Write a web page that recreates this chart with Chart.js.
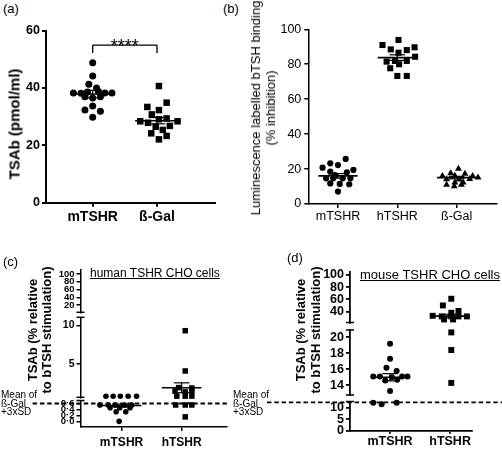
<!DOCTYPE html>
<html>
<head>
<meta charset="utf-8">
<script src="https://cdn.jsdelivr.net/npm/chart.js@4.4.0/dist/chart.umd.min.js"></script>
<style>
  body { margin: 0; background: #fff; }
  #fig { position: relative; width: 502px; height: 449px; overflow: hidden; font-family: "Liberation Sans", Arial, sans-serif; color: #000; }
  canvas { position: absolute; }
  .t { position: absolute; white-space: nowrap; }
  .rot { position: absolute; white-space: nowrap; text-align: center; transform: translate(-50%, -50%) rotate(-90deg); }
</style>
</head>
<body>
<div id="fig">
  <canvas id="ca"></canvas>
  <canvas id="cb"></canvas>
  <canvas id="cc1"></canvas>
  <canvas id="cc2"></canvas>
  <canvas id="cc3"></canvas>
  <canvas id="cd1"></canvas>
  <canvas id="cd2"></canvas>
  <canvas id="cd3"></canvas>

  <div class="t" style="left:3px;top:1px;font-size:13px">(a)</div>
  <div class="t" style="left:223px;top:1px;font-size:13px">(b)</div>
  <div class="t" style="left:3px;top:254px;font-size:13px">(c)</div>
  <div class="t" style="left:287px;top:250px;font-size:13px">(d)</div>

  <div class="rot" style="left:14px;top:124px;font-size:15px;font-weight:bold">TSAb (pmol/ml)</div>
  <div class="rot" style="left:263px;top:108px;font-size:13px;line-height:15px">Luminescence labelled bTSH binding<br>(% inhibition)</div>
  <div class="rot" style="left:40px;top:330px;font-size:13px;font-weight:bold;line-height:14px">TSAb (% relative<br>to bTSH stimulation)</div>
  <div class="rot" style="left:307.5px;top:330px;font-size:13px;font-weight:bold;line-height:15px">TSAb (% relative<br>to bTSH stimulation)</div>

  <div class="t" style="left:90px;top:266px;font-size:12px;line-height:14px;text-decoration:underline">human TSHR CHO cells</div>
  <div class="t" style="left:360px;top:267px;font-size:13px;line-height:15px;text-decoration:underline">mouse TSHR CHO cells</div>

  <div class="t" style="left:1px;top:391px;font-size:10px;line-height:8.6px">Mean of<br>ß-Gal<br>+3xSD</div>
  <div class="t" style="left:233px;top:391px;font-size:10px;line-height:8.6px">Mean of<br>ß-Gal<br>+3xSD</div>
</div>

<script>
const FONT = '"Liberation Sans", Arial, sans-serif';

// (a) TSAb in pmol/ml
const aCats = ['mTSHR', 'ß-Gal'];
const aTicks = [0, 20, 40, 60];
const aMtshr = [48.8, 44.2, 41.3, 40.0, 38.3, 38.2, 38.6, 38.8, 38.3, 38.3, 37.0, 36.5, 37.0, 33.7, 32.3, 31.9, 29.8];
const aMtshrSpread = [0, 0, -0.06, 0.06, -0.3, -0.18, -0.08, 0.09, 0.19, 0.3, -0.12, 0, 0.12, 0, -0.12, 0.12, 0];
const aBgal = [40.7, 33.4, 34.9, 32.3, 30.8, 28.4, 27.9, 29.1, 29.4, 28.4, 26.5, 26.8, 25.4, 24.2, 23.3, 22.1];
const aBgalSpread = [0.03, -0.15, 0.15, 0.03, -0.08, -0.26, -0.14, 0.03, 0.15, 0.32, -0.02, 0.2, 0.09, -0.09, 0.15, 0.03];
const aMean = [37.9, 28.6];
const aSem = [1.3, 1.1];
const aSigText = '****';
const aSigLevels = [52.2, 55];

// (b) luminescence bTSH binding, % inhibition
const bCats = ['mTSHR', 'hTSHR', 'ß-Gal'];
const bTicks = [0, 20, 40, 60, 80, 100];
const bMtshr = [25.8, 23.3, 22.3, 20.8, 19.5, 18.5, 18.1, 16.5, 14.7, 14.7, 14.7, 14.7, 11.8, 11.5, 11.3, 7.1];
const bMtshrSpread = [0.13, -0.13, 0, -0.26, 0.26, -0.13, 0.15, -0.05, -0.2, -0.08, 0.08, 0.21, -0.13, 0.03, 0.19, 0];
const bHtshr = [93.9, 91.0, 88.5, 89.7, 88.1, 86.6, 84.3, 81.5, 81.9, 81.9, 80.0, 77.7, 73.3, 73.3];
const bHtshrSpread = [0.02, -0.25, -0.11, 0.29, 0.16, 0.02, 0.3, -0.18, -0.04, 0.16, 0.03, -0.12, 0, 0.16];
const bBgal = [20.2, 17.6, 17.3, 16.0, 16.1, 16.0, 15.2, 14.2, 14.0, 14.3, 12.3, 12.3, 11.0, 10.2, 11.0];
const bBgalSpread = [0.03, -0.1, 0.14, -0.24, -0.03, 0.27, 0.36, -0.17, 0.04, 0.22, -0.03, 0.11, -0.17, -0.04, 0.08];
const bMean = [16.1, 83.8, 15.1];
const bSem = [1.3, 1.6, 0.7];

// (c) human TSHR CHO cells, % of bTSH stimulation
const cCats = ['mTSHR', 'hTSHR'];
const cUpperTicks = [20, 40, 60, 80, 100];
const cMidTicks = [5, 10];
const cLowTicks = [0, 0.2, 0.4, 0.6];
const cMtshr = [0.83, 0.83, 0.83, 0.83, 0.83, 0.55, 0.55, 0.55, 0.55, 0.55, 0.46, 0.46, 0.46, 0.32, 0.32, 0.0];
const cMtshrSpread = [-0.26, -0.14, -0.02, 0.11, 0.25, -0.36, -0.22, -0.11, 0.05, 0.17, -0.19, -0.03, 0.14, -0.09, 0.07, -0.04];
const cHtshr = [9.3, 4.1, 1.95, 1.9, 1.5, 1.4, 1.45, 0.85, 0.85, 0.85, 0.55, 0.55, 0.55, 0.15];
const cHtshrSpread = [0.06, 0.06, -0.05, 0.17, -0.11, 0.06, 0.17, -0.08, 0.06, 0.17, -0.1, 0.06, 0.17, 0.06];
const cMean = [0.53, 1.93];
const cSem = [0.05, 0.64];
const cCutoff = 0.6;

// (d) mouse TSHR CHO cells, % of bTSH stimulation
const dCats = ['mTSHR', 'hTSHR'];
const dUpperTicks = [40, 60, 80, 100];
const dMidTicks = [14, 16, 18, 20];
const dLowTicks = [0, 5, 10];
const dMtshr = [19.2, 17.3, 16.2, 15.8, 15.1, 15.1, 15.0, 15.1, 15.1, 14.6, 14.7, 13.3, 12.3, 11.6, 12.2];
const dMtshrSpread = [0, 0, -0.06, 0.11, -0.28, -0.17, 0.03, 0.2, 0.29, -0.08, 0.12, 0, -0.28, -0.14, 0.11];
const dHtshr = [61, 50, 41, 38, 33, 32, 32, 32, 32, 27, 27, 20.6, 18.4, 14.3];
const dHtshrSpread = [0.02, -0.12, 0.14, 0.02, -0.29, -0.14, 0.02, 0.14, 0.28, -0.1, 0.05, 0.02, 0.02, 0.02];
const dMean = [15.0, 32.5];
const dSem = [0.45, 3.0];
const dCutoff = 12.4;

// short horizontal marks where an axis is broken
const capsPlugin = {
  id: 'caps',
  afterDraw(chart, args, o) {
    const at = (o && o.at) || [];
    if (!at.length) return;
    const {ctx, chartArea: a} = chart;
    ctx.save();
    ctx.strokeStyle = '#000';
    ctx.lineWidth = 1.5;
    at.forEach(side => {
      const y = side === 'top' ? a.top : a.bottom;
      ctx.beginPath(); ctx.moveTo(a.left - 4, y); ctx.lineTo(a.left + 4, y); ctx.stroke();
    });
    ctx.restore();
  }
};

const sigPlugin = {
  id: 'sig',
  afterDatasetsDraw(chart, args, o) {
    if (!o || !o.text) return;
    const {ctx, scales: {x, y}} = chart;
    ctx.save();
    ctx.font = '18px ' + FONT;
    ctx.fillStyle = '#000';
    ctx.textAlign = 'center';
    ctx.textBaseline = 'alphabetic';
    ctx.fillText(o.text, x.getPixelForValue(o.x), y.getPixelForValue(o.y) + 7);
    ctx.restore();
  }
};

function seg(x1, y1, x2, y2, w = 1.5, dash = []) {
  return {data: [{x: x1, y: y1}, {x: x2, y: y2}], showLine: true, pointRadius: 0,
          borderColor: '#000', borderWidth: w, borderDash: dash, clip: false};
}

function meanSem(i, m, s, hw, cw) {
  return [seg(i - hw, m, i + hw, m, 1.6), seg(i, m - s, i, m + s, 1.2),
          seg(i - cw, m + s, i + cw, m + s, 1.2), seg(i - cw, m - s, i + cw, m - s, 1.2)];
}

// each axis segment keeps only values in [lo, hi); mean/SEM first so they paint over the points
function groupSets(groups, lo, hi) {
  const inside = v => v >= lo && v < hi;
  const lines = [], marks = [];
  groups.forEach(g => {
    if (inside(g.mean)) lines.push(...meanSem(g.i, g.mean, g.sem, g.hw || 0.33, 0.13));
    const data = g.vals.map((v, k) => ({x: g.i + g.spread[k], y: v})).filter(p => inside(p.y));
    if (data.length) marks.push({data, pointStyle: g.style, pointRadius: g.r, backgroundColor: '#000',
                                 borderColor: '#000', borderWidth: 0, clip: false});
  });
  return lines.concat(marks);
}

function chartSeg(id, o) {
  const cv = document.getElementById(id);
  const b = o.box, a = o.area;
  cv.width = b.w; cv.height = b.h;
  Object.assign(cv.style, {left: b.x + 'px', top: b.y + 'px', width: b.w + 'px', height: b.h + 'px'});
  const showX = !!o.xLabels;
  const xH = showX ? o.xH : 0;
  const font = (size, bold) => ({family: FONT, size, weight: bold ? 'bold' : 'normal'});
  return new Chart(cv, {
    type: 'scatter',
    data: {datasets: o.datasets},
    options: {
      responsive: false, animation: false, devicePixelRatio: 1, events: [],
      layout: {padding: {left: 0, top: a.top - b.y, right: b.x + b.w - a.right, bottom: b.y + b.h - a.bottom - xH}},
      plugins: {legend: {display: false}, tooltip: {enabled: false}, caps: {at: o.caps || []}, sig: o.sig || false},
      scales: {
        x: {
          type: 'linear', min: o.xRange[0], max: o.xRange[1], display: showX,
          afterFit: s => { s.height = xH; },
          afterBuildTicks: s => { s.ticks = (o.xLabels || []).map((_, i) => ({value: i})); },
          ticks: {color: '#000', font: font(o.xSize, o.xBold), padding: o.xPad, autoSkip: false, maxRotation: 0,
                  callback: v => o.xLabels[v]},
          grid: {drawOnChartArea: false, color: '#000', lineWidth: o.lw, tickLength: o.xTick},
          border: {color: '#000', width: o.lw}
        },
        y: {
          type: 'linear', min: o.yRange[0], max: o.yRange[1],
          afterFit: s => { s.width = a.left - b.x; },
          afterBuildTicks: s => { s.ticks = o.yTicks.map(v => ({value: v})); },
          ticks: {color: '#000', font: font(o.ySize, o.yBold), padding: o.yPad, autoSkip: false,
                  callback: o.yFmt || (v => v)},
          grid: {drawOnChartArea: false, color: '#000', lineWidth: o.lw, tickLength: 4},
          border: {color: '#000', width: o.lw}
        }
      }
    },
    plugins: [capsPlugin, sigPlugin]
  });
}

// ---- (a)
const aGroups = [
  {i: 0, vals: aMtshr, spread: aMtshrSpread, style: 'circle', r: 3.5, mean: aMean[0], sem: aSem[0], hw: 0.34},
  {i: 1, vals: aBgal, spread: aBgalSpread, style: 'rect', r: 4.6, mean: aMean[1], sem: aSem[1], hw: 0.34}
];
chartSeg('ca', {
  box: {x: 0, y: 20, w: 225, h: 215}, area: {left: 46, top: 30.7, right: 215, bottom: 202.7},
  xRange: [-0.726, 1.902], yRange: [0, 60], yTicks: aTicks, xLabels: aCats,
  xH: 27, xSize: 14, xBold: true, xPad: 2, xTick: 4, ySize: 12.5, yBold: true, yPad: 2, lw: 2,
  sig: {text: aSigText, x: 0.5, y: aSigLevels[1]},
  datasets: [
    seg(0, aSigLevels[0], 0, aSigLevels[1], 1.3),
    seg(0, aSigLevels[1], 1, aSigLevels[1], 1.3),
    seg(1, aSigLevels[1], 1, aSigLevels[0], 1.3),
    ...groupSets(aGroups, 0, 61)
  ]
});

// ---- (b)
const bGroups = [
  {i: 0, vals: bMtshr, spread: bMtshrSpread, style: 'circle', r: 3.1, mean: bMean[0], sem: bSem[0]},
  {i: 1, vals: bHtshr, spread: bHtshrSpread, style: 'rect', r: 4.3, mean: bMean[1], sem: bSem[1]},
  {i: 2, vals: bBgal, spread: bBgalSpread, style: 'triangle', r: 4, mean: bMean[2], sem: bSem[2]}
];
chartSeg('cb', {
  box: {x: 248, y: 15, w: 254, h: 220}, area: {left: 308.3, top: 29.3, right: 497, bottom: 204},
  xRange: [-0.5, 2.68], yRange: [0, 100], yTicks: bTicks, xLabels: bCats,
  xH: 26, xSize: 12.5, xBold: false, xPad: 1, xTick: 4, ySize: 12.5, yBold: false, yPad: 3, lw: 1.5,
  datasets: groupSets(bGroups, 0, 101)
});

// ---- (c) broken axis: three stacked segments
const cGroups = [
  {i: 0, vals: cMtshr, spread: cMtshrSpread, style: 'circle', r: 2.8, mean: cMean[0], sem: cSem[0]},
  {i: 1, vals: cHtshr, spread: cHtshrSpread, style: 'rect', r: 3.9, mean: cMean[1], sem: cSem[1]}
];
const cX = [-0.683, 1.75];
const cCommon = {xRange: cX, ySize: 10.5, yBold: true, yPad: 2, lw: 1.5};
chartSeg('cc1', {...cCommon, ySize: 9.5, box: {x: 0, y: 258, w: 250, h: 64}, area: {left: 80.5, top: 270, right: 226.7, bottom: 312.3},
  yRange: [1.2, 110.3], yTicks: cUpperTicks, caps: ['bottom'], datasets: groupSets(cGroups, 11.03, 1000)});
chartSeg('cc2', {...cCommon, box: {x: 0, y: 305, w: 250, h: 102}, area: {left: 80.5, top: 317.3, right: 226.7, bottom: 397.3},
  yRange: [0.7, 11.03], yTicks: cMidTicks, caps: ['top', 'bottom'], datasets: groupSets(cGroups, 0.7, 11.03)});
chartSeg('cc3', {...cCommon, ySize: 9.5, box: {x: 0, y: 390, w: 250, h: 59}, area: {left: 80.5, top: 400.5, right: 226.7, bottom: 427},
  yRange: [-0.19, 0.7], yTicks: cLowTicks, caps: ['top'], yFmt: v => v.toFixed(1).replace('.', '·'),
  xLabels: cCats, xH: 22, xSize: 12, xBold: true, xPad: 4, xTick: 4,
  datasets: [seg(-1.48, cCutoff, 1.8, cCutoff, 1.8, [4.5, 2.8]), ...groupSets(cGroups, -1, 0.7)]});

// ---- (d) broken axis
const dGroups = [
  {i: 0, vals: dMtshr, spread: dMtshrSpread, style: 'circle', r: 3, mean: dMean[0], sem: dSem[0], hw: 0.32},
  {i: 1, vals: dHtshr, spread: dHtshrSpread, style: 'rect', r: 4.2, mean: dMean[1], sem: dSem[1], hw: 0.32}
];
const dX = [-0.667, 1.36];
const dCommon = {xRange: dX, ySize: 12.5, yBold: true, yPad: 2, lw: 1.8};
chartSeg('cd1', {...dCommon, box: {x: 250, y: 262, w: 252, h: 70}, area: {left: 350, top: 271.7, right: 471.7, bottom: 322.7},
  yRange: [22, 105.4], yTicks: dUpperTicks, caps: ['bottom'], datasets: groupSets(dGroups, 20.9, 1000)});
chartSeg('cd2', {...dCommon, box: {x: 250, y: 320, w: 252, h: 85}, area: {left: 350, top: 330, right: 471.7, bottom: 395},
  yRange: [12.79, 20.9], yTicks: dMidTicks, caps: ['top', 'bottom'], datasets: groupSets(dGroups, 12.79, 20.9)});
chartSeg('cd3', {...dCommon, box: {x: 250, y: 392, w: 252, h: 57}, area: {left: 350, top: 400.7, right: 471.7, bottom: 430.7},
  yRange: [0, 12.8], yTicks: dLowTicks, caps: ['top'],
  xLabels: dCats, xH: 18, xSize: 12.5, xBold: true, xPad: 0, xTick: 3,
  datasets: [seg(-2.05, dCutoff, 1.87, dCutoff, 1.8, [4.5, 2.8]), ...groupSets(dGroups, -1, 12.79)]});
</script>
</body>
</html>
